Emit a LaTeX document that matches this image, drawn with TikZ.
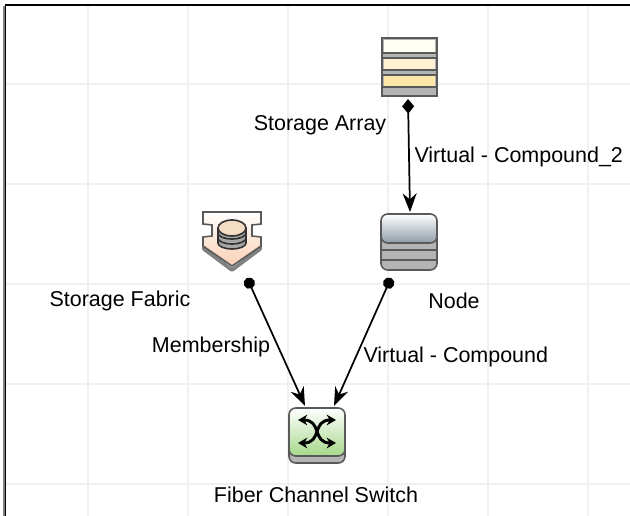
\documentclass[tikz,border=0pt]{standalone}
\usepackage{fontspec}
\setmainfont{Liberation Sans}
\usetikzlibrary{arrows.meta}
\definecolor{gridgray}{HTML}{F0F0F0}
\definecolor{edgegray}{HTML}{5A5A5A}
\definecolor{bandgray}{HTML}{B4B4B4}
\definecolor{creamone}{HTML}{FFFEF2}
\definecolor{creamtwo}{HTML}{FDF1CF}
\definecolor{creamthree}{HTML}{FCE7A8}
\definecolor{steelgray}{HTML}{8F9CA8}
\definecolor{peach}{HTML}{FBD0B4}
\definecolor{diskface}{HTML}{F5DCC4}
\definecolor{switchgreen}{HTML}{A6D88A}
\tikzset{every picture/.style={line width=0.75pt}}
\tikzset{
  lbl/.style={font=\fontsize{16.1pt}{18pt}\selectfont,inner sep=0pt,text=black},
  hitbox/.style={inner sep=0pt,minimum width=42pt,minimum height=44pt},
  assoc/.style={line width=1.3pt,{Circle[length=8.5pt]}-{Stealth[length=14pt,width=10.5pt]}},
  compos/.style={line width=1.3pt,{Diamond[length=11pt,width=9pt]}-{Stealth[length=14pt,width=10.5pt]}}
}

\begin{document}
\begin{tikzpicture}[x=0.75pt,y=0.75pt,yscale=-1,xscale=1]
\useasboundingbox (0,0) rectangle (630,516);

% grid
\foreach \gx in {88,188,288,388,488,588}
  \draw [gridgray,line width=1.3pt] (\gx,6) -- (\gx,516) ;
\foreach \gy in {84,184,284,384,484}
  \draw [gridgray,line width=1.1pt] (6,\gy) -- (630,\gy) ;
\draw [line width=1.1pt] (630,5) -- (5.5,5) -- (5.5,516) ;
\draw [gray,line width=0.8pt] (4,6) -- (4,516) ;

% storage array
\node [hitbox] (array) at (409,67) {};
\fill [bandgray] (382,38) rectangle (437,96) ;
\fill [creamone] (384,40) rectangle (435,52) ;
\fill [creamtwo] (384,58) rectangle (435,69) ;
\fill [creamthree] (384,76) rectangle (435,86) ;
\draw [edgegray,line width=1pt] (382,53) -- (437,53) (382,58) -- (437,58) (382,70) -- (437,70) (382,75) -- (437,75) (382,87) -- (437,87) ;
\draw [edgegray,line width=1.2pt] (382,38) rectangle (437,96) ;

% node
\node [hitbox] (host) at (409,242) {};
\draw [edgegray,fill=bandgray,line width=1.2pt,rounded corners=5pt] (381,225) -- (381,270) -- (437,270) -- (437,225) -- cycle ;
\draw [edgegray,line width=1.5pt] (382,250) -- (436,250) (382,260) -- (436,260) ;
\draw [edgegray,top color=white,bottom color=steelgray,line width=1.2pt,rounded corners=5pt] (381,214) rectangle (437,243) ;

% storage fabric
\node [hitbox] (fabric) at (232,242) {};
\draw [gray,line width=2.8pt,line join=round] (204,239) -- (204,249) -- (232,270) -- (260,249) -- (260,239) ;
\draw [edgegray,line width=1.2pt,top color=white,bottom color=peach]
  (203,212) -- (261,212) -- (261,224) -- (252,225) -- (252,236) -- (261,237) -- (261,246) -- (232,266) -- (203,246) -- (203,237) -- (212,236) -- (212,225) -- (203,224) -- cycle ;
\foreach \dy in {243,238,233}
  \draw [black!80,fill=gray!70,line width=1.2pt] (218,\dy-5) -- (218,\dy) arc[start angle=180,end angle=0,x radius=14,y radius=6] -- (246,\dy-5) ;
\draw [black!80,fill=diskface,line width=1.2pt] (232,228) ellipse [x radius=14,y radius=8] ;

% fiber channel switch
\node [hitbox] (switch) at (317,436) {};
\draw [edgegray,fill=bandgray,line width=1.2pt,rounded corners=5pt] (289,430) rectangle (345,463) ;
\draw [edgegray,top color=white,bottom color=switchgreen,line width=1.2pt,rounded corners=5pt] (289,408) rectangle (345,456) ;
\draw [black,line width=2.2pt,{Stealth[length=7pt,width=8pt]}-{Stealth[length=7pt,width=8pt]}] (298,420) .. controls (322,420) and (312,443) .. (336,443) ;
\draw [black,line width=2.2pt,{Stealth[length=7pt,width=8pt]}-{Stealth[length=7pt,width=8pt]}] (298,443) .. controls (322,443) and (312,420) .. (336,420) ;

% connector ends
\coordinate (arrayout) at (408,99) ;
\coordinate (hostin) at (410,212) ;
\coordinate (fabricout) at (247,278) ;
\coordinate (hostout) at (391,278) ;
\coordinate (switchleft) at (305,406) ;
\coordinate (switchright) at (334,406) ;

\draw [compos] (arrayout) -- (hostin) ;
\draw [assoc] (fabricout) -- (switchleft) ;
\draw [assoc] (hostout) -- (switchright) ;

\node [lbl] (arraylbl) at (320,125) {Storage Array};
\node [lbl,anchor=west] (toplbl) at (414,157) {Virtual - Compound\_2};
\node [lbl] (fabriclbl) at (120,301) {Storage Fabric};
\node [lbl] (hostlbl) at (454,301) {Node};
\node [lbl] (memberlbl) at (211,347) {Membership};
\node [lbl,anchor=west] (compoundlbl) at (363,357) {Virtual - Compound};
\node [lbl] (switchlbl) at (316,495) {Fiber Channel Switch};

\end{tikzpicture}
\end{document}
